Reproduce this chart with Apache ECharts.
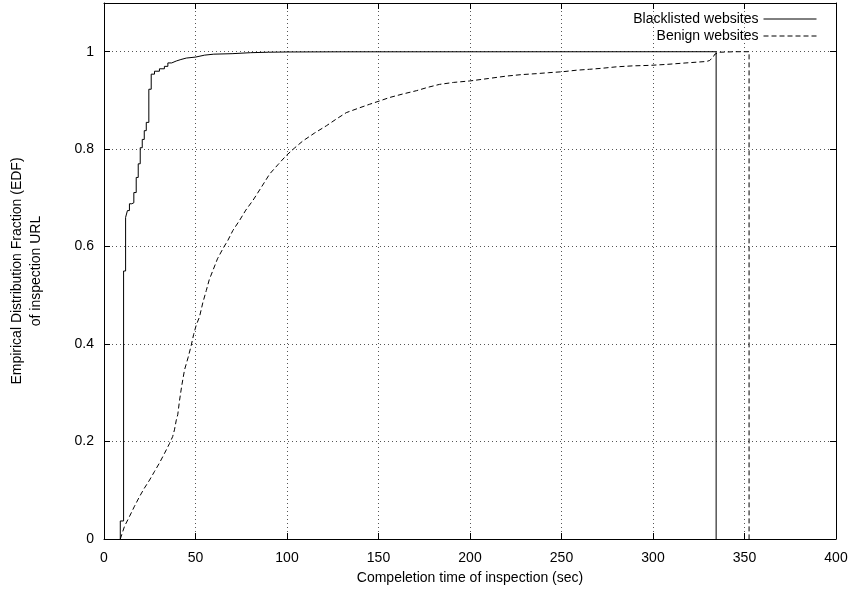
<!DOCTYPE html>
<html>
<head>
<meta charset="utf-8">
<script src="https://cdn.jsdelivr.net/npm/echarts@6/dist/echarts.min.js"></script>
<style>
  html, body { margin: 0; padding: 0; background: #fff; }
  #chart { width: 855px; height: 599px; }
</style>
</head>
<body>
<div id="chart"></div>
<script>
// Completion times (sec) and cumulative fractions of inspected URLs
const blacklistedTime = [8.9, 8.9, 10.7, 11.8, 12.8, 13.9, 15.2, 16.3, 17.6, 18.7, 19.8, 20.9, 22.0, 23.1, 24.5, 25.8, 27.6, 30.3, 33.0, 34.9, 37.0, 39.5, 42.0, 45.0, 50.0, 55.0, 60.0, 70.0, 80.0, 90.0, 100.0, 130.0, 334.5, 334.5];
const blacklistedEDF  = [0, 0.037, 0.55, 0.66, 0.674, 0.688, 0.69, 0.711, 0.742, 0.77, 0.803, 0.82, 0.838, 0.855, 0.923, 0.954, 0.96, 0.965, 0.97, 0.977, 0.981, 0.984, 0.987, 0.989, 0.993, 0.995, 0.996, 0.998, 0.999, 0.9995, 0.9998, 1.0, 1.0, 0];

const benignTime = [8.9, 11.2, 13.9, 16.5, 19.4, 22.0, 24.9, 27.5, 30.3, 33.1, 35.8, 37.5, 38.5, 39.5, 40.3, 41.3, 42.5, 44.0, 46.0, 47.7, 49.0, 50.4, 52.2, 54.0, 55.9, 57.5, 59.5, 62.0, 65.0, 67.7, 70.4, 74.1, 77.5, 81.4, 86.0, 90.5, 95.0, 99.6, 104.0, 108.7, 115.0, 121.5, 127.0, 132.4, 139.7, 145.0, 150.6, 156.0, 163.0, 170.7, 177.0, 183.4, 191.0, 199.8, 210.0, 219.9, 228.0, 236.3, 243.0, 250.8, 258.0, 265.4, 272.0, 280.0, 289.0, 298.3, 307.4, 318.0, 329.2, 331.0, 333.0, 333.8, 336.6, 345.0, 352.5, 352.5];
const benignEDF  = [0, 0.026, 0.046, 0.066, 0.087, 0.104, 0.121, 0.138, 0.156, 0.176, 0.196, 0.21, 0.224, 0.244, 0.255, 0.285, 0.315, 0.347, 0.373, 0.398, 0.42, 0.439, 0.456, 0.485, 0.51, 0.532, 0.551, 0.575, 0.596, 0.613, 0.633, 0.654, 0.675, 0.695, 0.722, 0.749, 0.768, 0.787, 0.802, 0.817, 0.833, 0.848, 0.862, 0.875, 0.885, 0.892, 0.899, 0.906, 0.913, 0.92, 0.927, 0.933, 0.937, 0.94, 0.945, 0.95, 0.953, 0.955, 0.957, 0.959, 0.962, 0.964, 0.966, 0.969, 0.971, 0.972, 0.974, 0.977, 0.98, 0.982, 0.99, 0.995, 0.999, 1.0, 1.0, 0];

const seriesNames = ['Blacklisted websites', 'Benign websites'];
const xTickLabels = ['0', '50', '100', '150', '200', '250', '300', '350', '400'];
const yTickLabels = ['0', '0.2', '0.4', '0.6', '0.8', '1'];

const FONT = '"Liberation Sans", Arial, Helvetica, sans-serif';

function pairs(xs, ys) {
  return xs.map((x, i) => [x, ys[i]]);
}

const gridDots = { show: true, lineStyle: { color: '#555', width: 1, type: [1, 3] } };
const boxLine = { show: true, onZero: false, lineStyle: { color: '#000', width: 1 } };
const inTicks = { show: true, inside: true, length: 6, lineStyle: { color: '#000', width: 1 } };

const chart = echarts.init(document.getElementById('chart'), null, { renderer: 'canvas' });
chart.setOption({
  animation: false,
  backgroundColor: '#fff',
  textStyle: { fontFamily: FONT },
  grid: { left: 104, right: 19, top: 3, bottom: 60 },
  legend: {
    data: seriesNames,
    orient: 'vertical',
    align: 'right',
    right: 33,
    top: 7,
    itemWidth: 53,
    itemHeight: 14,
    itemGap: 3,
    itemStyle: { opacity: 0 },
    lineStyle: { width: 1 },
    textStyle: { fontFamily: FONT, fontSize: 14, color: '#000' }
  },
  xAxis: [
    {
      type: 'value', min: 0, max: 400, interval: 50,
      axisLine: boxLine, axisTick: inTicks, splitLine: gridDots,
      axisLabel: {
        color: '#000', fontSize: 14, fontFamily: FONT, margin: 12,
        formatter: v => xTickLabels[Math.round(v / 50)] ?? ''
      },
      name: 'Compeletion time of inspection (sec)',
      nameLocation: 'middle', nameGap: 32,
      nameTextStyle: { color: '#000', fontSize: 14, fontFamily: FONT }
    },
    {
      type: 'value', position: 'top', min: 0, max: 400, interval: 50,
      axisLine: boxLine, axisTick: inTicks, splitLine: { show: false },
      axisLabel: { show: false }
    }
  ],
  yAxis: [
    {
      type: 'value', min: 0, max: 1.1, interval: 0.2,
      axisLine: boxLine, axisTick: inTicks, splitLine: gridDots,
      axisLabel: {
        color: '#000', fontSize: 14, fontFamily: FONT, margin: 10,
        showMaxLabel: false,
        formatter: v => {
          const i = Math.round(v / 0.2);
          return Math.abs(v - i * 0.2) < 1e-6 ? (yTickLabels[i] ?? '') : '';
        }
      },
      name: 'Empirical Distribution Fraction (EDF)\nof inspection URL',
      nameLocation: 'middle', nameRotate: 90, nameGap: 58,
      nameTextStyle: { color: '#000', fontSize: 14, fontFamily: FONT, lineHeight: 19 }
    },
    {
      type: 'value', position: 'right', min: 0, max: 1.1, interval: 0.2,
      axisLine: boxLine, axisTick: inTicks, splitLine: { show: false },
      axisLabel: { show: false }
    }
  ],
  series: [
    {
      name: seriesNames[0],
      type: 'line',
      step: 'end',
      symbol: 'none',
      showSymbol: false,
      data: pairs(blacklistedTime, blacklistedEDF),
      lineStyle: { color: '#000', width: 1, type: 'solid' },
      itemStyle: { color: '#000' },
      z: 3
    },
    {
      name: seriesNames[1],
      type: 'line',
      symbol: 'none',
      showSymbol: false,
      data: pairs(benignTime, benignEDF),
      lineStyle: { color: '#000', width: 1, type: [5, 3] },
      itemStyle: { color: '#000' },
      z: 3
    }
  ]
});
</script>
</body>
</html>
